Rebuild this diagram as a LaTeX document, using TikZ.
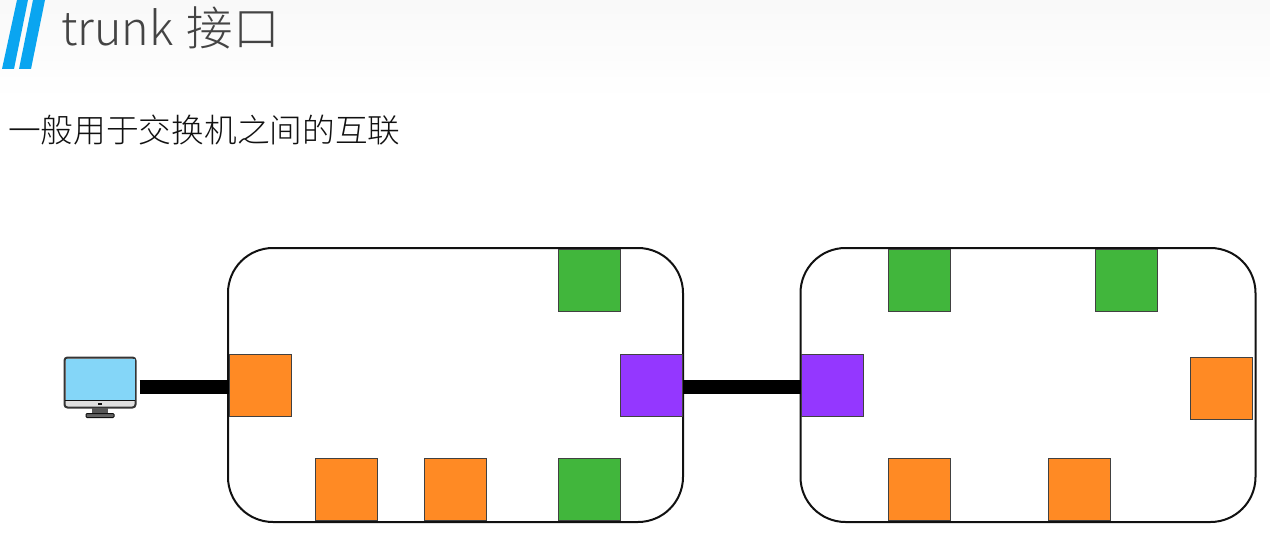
\documentclass[tikz,border=0pt]{standalone}
\usepackage{xcolor}
\usepackage{fontspec}
\setmainfont{Noto Sans CJK SC}[UprightFont=* Light]
\usepackage{tikz}
\definecolor{fg}{HTML}{111111}
\definecolor{slash}{HTML}{0AA5F0}
\definecolor{titletext}{HTML}{444444}
\definecolor{portorange}{HTML}{FF8A24}
\definecolor{portgreen}{HTML}{41B63C}
\definecolor{portpurple}{HTML}{9437FF}
\definecolor{screen}{HTML}{84D6F8}
\tikzset{
  switchbox/.style={draw=fg,line width=2pt,rounded corners=45pt,fill=white,inner sep=0pt,minimum width=455pt,minimum height=274pt},
  portbox/.style={draw=fg!80,line width=1pt,inner sep=0pt,minimum size=62pt},
  orangeport/.style={portbox,fill=portorange},
  greenport/.style={portbox,fill=portgreen},
  purpleport/.style={portbox,fill=portpurple},
  link/.style={line width=14pt,draw=black},
}

\begin{document}
\begin{tikzpicture}[x=1pt,y=-1pt]
  \useasboundingbox (0,0) rectangle (1270,559);
  % header
  \shade[top color=black!2.5,bottom color=white] (0,0) rectangle (1270,100);
  \fill[slash] (17,0) -- (28,0) -- (14,69) -- (2,69) -- cycle;
  \fill[slash] (33,0) -- (45,0) -- (31,69) -- (19,69) -- cycle;
  \node[anchor=west,inner sep=0pt,text=titletext,font=\fontsize{46.5}{50}\selectfont] (title) at (61,28) {trunk\hspace{3pt} 接口};
  \node[anchor=west,inner sep=0pt,text=fg,font=\fontsize{32.7}{38}\selectfont] (subtitle) at (8,130) {一般用于交换机之间的互联};

  % switches
  \node[switchbox] (leftswitch) at (455.5,385) {};
  \node[switchbox] (rightswitch) at (1028,385) {};

  % ports of the left switch
  \node[greenport] (lefttop) at (589,280) {};
  \node[orangeport] (lefthost) at (260,385) {};
  \node[purpleport] (lefttrunk) at (651,385) {};
  \node[orangeport] (leftbottoma) at (346.5,489.5) {};
  \node[orangeport] (leftbottomb) at (455,489.5) {};
  \node[greenport] (leftbottomc) at (589,489.5) {};

  % ports of the right switch
  \node[greenport] (righttopa) at (919,280) {};
  \node[greenport] (righttopb) at (1126,280) {};
  \node[purpleport] (righttrunk) at (832,385) {};
  \node[orangeport] (rightside) at (1221,388) {};
  \node[orangeport] (rightbottoma) at (919,489.5) {};
  \node[orangeport] (rightbottomb) at (1079.5,489.5) {};

  % computer
  \node[draw=fg!85,line width=2pt,fill=black!12,rounded corners=3pt,inner sep=0pt,minimum width=71pt,minimum height=50pt] (pc) at (100,382.5) {};
  \fill[screen] (65.5,359) rectangle (134.5,399.5);
  \draw[fg,line width=1pt] (65,400) -- (135,400);
  \fill[fg] (98,402.5) rectangle (102,405);
  \fill[fg!70] (92,408) rectangle (108,413.5);
  \draw[fg,fill=fg!65,line width=1pt,rounded corners=1pt] (86,413.5) rectangle (114,417.5);

  % links
  \draw[link,shorten <=3pt] ([yshift=-2pt]pc.east |- lefthost.west) -- ([yshift=-2pt]lefthost.west);
  \draw[link] ([yshift=-2pt]lefttrunk.east) -- ([yshift=-2pt]righttrunk.west);
\end{tikzpicture}
\end{document}
